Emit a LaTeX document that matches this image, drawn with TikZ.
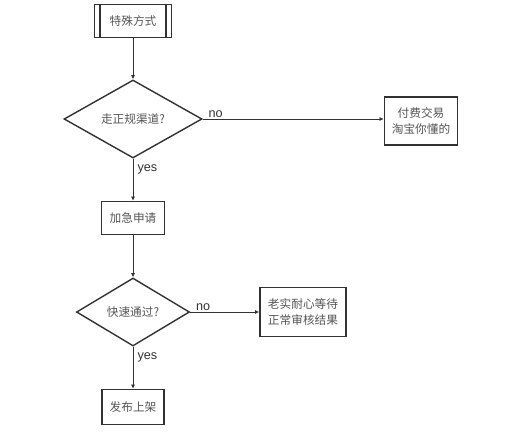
\documentclass[tikz,border=0pt]{standalone}
\usepackage{fontspec}
\setmainfont{Liberation Sans}
\newfontfamily\cjk{Noto Sans CJK SC}
\usepackage{tikz}
\usetikzlibrary{shapes.geometric,arrows.meta,positioning}
\definecolor{LineGray}{RGB}{50,50,50}
\definecolor{TextGray}{RGB}{85,85,85}

\begin{document}
\begin{tikzpicture}[x=0.025cm,y=-0.025cm,
  box/.style={draw=LineGray,line width=1.1pt,fill=white,align=center,
              font=\cjk\fontsize{8.3}{12}\selectfont,text=TextGray,inner sep=2pt},
  choice/.style={diamond,draw=LineGray,line width=1pt,fill=white,
                 font=\cjk\fontsize{8.3}{12}\selectfont,text=TextGray,inner sep=0pt},
  link/.style={draw=LineGray,line width=0.7pt,-{Latex[length=3pt,width=3pt]}},
  tag/.style={font=\fontsize{9}{11}\selectfont,text=LineGray,inner sep=1pt},
]
\useasboundingbox (0,0) rectangle (505,434);

% nodes
\node[box,minimum width=1.925cm,minimum height=0.825cm] (special) at (133,21) {特殊方式};
\draw[LineGray,line width=1pt] ([xshift=0.16cm]special.north west) -- ([xshift=0.16cm]special.south west)
  ([xshift=-0.16cm]special.north east) -- ([xshift=-0.16cm]special.south east);
\node[choice,minimum width=3.45cm,minimum height=1.95cm] (regular) at (133,119) {走正规渠道?};
\node[box,minimum width=1.825cm,minimum height=1.2cm] (paid) at (421,121) {付费交易\\淘宝你懂的};
\node[box,minimum width=1.575cm,minimum height=0.825cm] (urgent) at (133,218) {加急申请};
\node[choice,minimum width=2.825cm,minimum height=1.7cm] (fast) at (133,312) {快速通过?};
\node[box,minimum width=2.15cm,minimum height=1.225cm] (wait) at (303,312) {老实耐心等待\\正常审核结果};
\node[box,minimum width=1.55cm,minimum height=0.875cm] (publish) at (133,407) {发布上架};

% connectors
\draw[link] (special) -- (regular);
\draw[link] (regular.east) -- (regular.east -| paid.west);
\draw[link] (regular) -- (urgent);
\draw[link] (urgent) -- (fast);
\draw[link] (fast.east) -- (wait.west);
\draw[link] (fast) -- (publish);

% labels
\node[tag,anchor=south west] (no1) at ([xshift=3pt]regular.east) {no};
\node[tag,anchor=north west] (yes1) at ([xshift=2pt,yshift=-3pt]regular.south) {yes};
\node[tag,anchor=south west] (no2) at ([xshift=3pt]fast.east) {no};
\node[tag,anchor=north west] (yes2) at ([xshift=2pt,yshift=-3pt]fast.south) {yes};
\end{tikzpicture}
\end{document}
